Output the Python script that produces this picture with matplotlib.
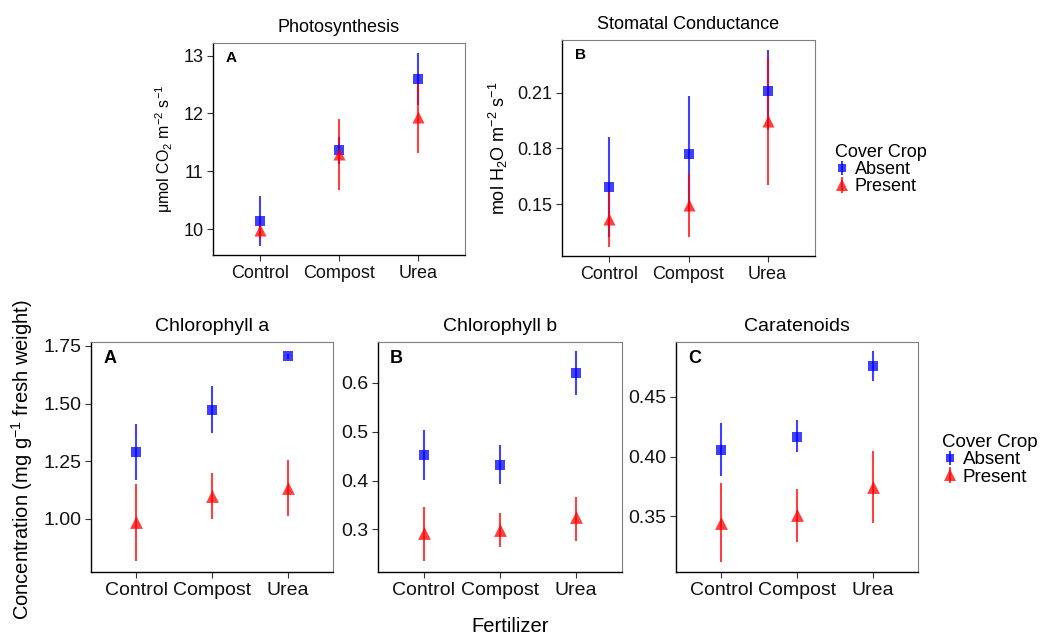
import numpy as np
import matplotlib
matplotlib.use("Agg")
import matplotlib.pyplot as plt
from matplotlib.lines import Line2D

plt.rcParams['font.family'] = ['Liberation Sans', 'DejaVu Sans']
plt.rcParams['mathtext.fontset'] = 'custom'
plt.rcParams['mathtext.rm'] = 'Liberation Sans'
plt.rcParams['mathtext.it'] = 'Liberation Sans'

fertilizer = ["Control", "Compost", "Urea"]

# photosynthesis (umol CO2 m-2 s-1)
ps_absent = [10.14, 11.36, 12.60]
ps_absent_lo = [9.71, 11.12, 12.15]
ps_absent_hi = [10.58, 11.60, 13.04]
ps_present = [9.98, 11.30, 11.94]
ps_present_lo = [9.82, 10.68, 11.32]
ps_present_hi = [10.14, 11.91, 12.56]

# stomatal conductance (mol H2O m-2 s-1)
gs_absent = [0.159, 0.177, 0.211]
gs_absent_lo = [0.132, 0.146, 0.190]
gs_absent_hi = [0.186, 0.208, 0.233]
gs_present = [0.142, 0.1495, 0.195]
gs_present_lo = [0.127, 0.132, 0.160]
gs_present_hi = [0.157, 0.166, 0.229]

# chlorophyll a
chla_absent = [1.289, 1.472, 1.705]
chla_absent_lo = [1.169, 1.371, 1.695]
chla_absent_hi = [1.411, 1.576, 1.715]
chla_present = [0.985, 1.099, 1.133]
chla_present_lo = [0.817, 0.997, 1.011]
chla_present_hi = [1.152, 1.198, 1.253]

# chlorophyll b
chlb_absent = [0.453, 0.432, 0.620]
chlb_absent_lo = [0.401, 0.393, 0.575]
chlb_absent_hi = [0.504, 0.472, 0.665]
chlb_present = [0.292, 0.299, 0.325]
chlb_present_lo = [0.235, 0.264, 0.277]
chlb_present_hi = [0.346, 0.333, 0.367]

# carotenoids
car_absent = [0.4056, 0.4168, 0.4757]
car_absent_lo = [0.3838, 0.4034, 0.4634]
car_absent_hi = [0.4280, 0.4307, 0.4885]
car_present = [0.3444, 0.3508, 0.3746]
car_present_lo = [0.3118, 0.3285, 0.3444]
car_present_hi = [0.3774, 0.3730, 0.4047]

BLUE = "#0000ff"
RED = "#ff0000"
W, H = 1041, 640

fig = plt.figure(figsize=(W / 100, H / 100), dpi=100)


def px_axes(x0, y0, x1, y1):
    return fig.add_axes([x0 / W, 1 - y1 / H, (x1 - x0) / W, (y1 - y0) / H])


def panel(ax, absent, a_lo, a_hi, present, p_lo, p_hi, ylim, yticks, ytl,
          title, letter, tick_fs, title_fs, letter_fs, sq, tri):
    x = np.arange(len(fertilizer))
    ax.vlines(x, a_lo, a_hi, color=BLUE, lw=1.5, alpha=0.75, zorder=2)
    ax.scatter(x, absent, marker='s', s=sq, color=BLUE, alpha=0.75,
               linewidths=0, zorder=3)
    ax.vlines(x, p_lo, p_hi, color=RED, lw=1.5, alpha=0.75, zorder=2)
    ax.scatter(x, present, marker='^', s=tri, color=RED, alpha=0.75,
               linewidths=0, zorder=3)
    ax.set_xlim(-0.6, 2.6)
    ax.set_ylim(*ylim)
    ax.set_xticks(x)
    ax.set_xticklabels(fertilizer, fontsize=tick_fs, color="#111111")
    ax.set_yticks(yticks)
    ax.set_yticklabels(ytl, fontsize=tick_fs, color="#111111")
    ax.tick_params(length=4, width=0.8, color="#333333", pad=3)
    for s in ("top", "right"):
        ax.spines[s].set_color("#7f7f7f")
        ax.spines[s].set_linewidth(0.8)
    for s in ("left", "bottom"):
        ax.spines[s].set_color("black")
        ax.spines[s].set_linewidth(1.0)
    ax.set_title(title, fontsize=title_fs, pad=8)
    ax.text(0.05, 0.93, letter, transform=ax.transAxes, fontsize=letter_fs,
            fontweight='bold', va='center', ha='left')


# top row
ax1 = px_axes(213, 43, 465, 255)
panel(ax1, ps_absent, ps_absent_lo, ps_absent_hi,
      ps_present, ps_present_lo, ps_present_hi,
      (9.55, 13.22), [10, 11, 12, 13], ["10", "11", "12", "13"],
      "Photosynthesis", "A", 13, 13, 11, 45, 75)
ax1.set_ylabel(r"$\mu$mol CO$_2$ m$^{-2}$ s$^{-1}$", fontsize=11.5, labelpad=6)

ax2 = px_axes(562, 40, 815, 256)
panel(ax2, gs_absent, gs_absent_lo, gs_absent_hi,
      gs_present, gs_present_lo, gs_present_hi,
      (0.122, 0.2384), [0.15, 0.18, 0.21], ["0.15", "0.18", "0.21"],
      "Stomatal Conductance", "B", 13, 13, 11, 45, 75)
ax2.set_ylabel(r"mol H$_2$O m$^{-2}$ s$^{-1}$", fontsize=13, labelpad=5)

# bottom row
ax3 = px_axes(91, 342, 333, 572)
panel(ax3, chla_absent, chla_absent_lo, chla_absent_hi,
      chla_present, chla_present_lo, chla_present_hi,
      (0.769, 1.767), [1.00, 1.25, 1.50, 1.75], ["1.00", "1.25", "1.50", "1.75"],
      "Chlorophyll a", "A", 14, 14, 13, 50, 85)

ax4 = px_axes(378, 342, 622, 572)
panel(ax4, chlb_absent, chlb_absent_lo, chlb_absent_hi,
      chlb_present, chlb_present_lo, chlb_present_hi,
      (0.2127, 0.6838), [0.3, 0.4, 0.5, 0.6], ["0.3", "0.4", "0.5", "0.6"],
      "Chlorophyll b", "B", 14, 14, 13, 50, 85)

ax5 = px_axes(676, 342, 918, 572)
panel(ax5, car_absent, car_absent_lo, car_absent_hi,
      car_present, car_present_lo, car_present_hi,
      (0.3031, 0.4961), [0.35, 0.40, 0.45], ["0.35", "0.40", "0.45"],
      "Caratenoids", "C", 14, 14, 13, 50, 85)

fig.text(22 / W, 1 - 460 / H, r"Concentration (mg g$^{-1}$ fresh weight)",
         rotation=90, fontsize=14.5, ha='center', va='center')
fig.text(510 / W, 1 - 627 / H, "Fertilizer", fontsize=14.5,
         ha='center', va='center')


def legend_handles(ms_sq, ms_tri):
    ha = (Line2D([], [], marker='|', ms=ms_sq + 4, mew=1.5, color=BLUE, alpha=0.75, ls='none'),
          Line2D([], [], marker='s', ms=ms_sq, color=BLUE, alpha=0.75, mew=0, ls='none'))
    hp = (Line2D([], [], marker='|', ms=ms_tri + 3, mew=1.5, color=RED, alpha=0.75, ls='none'),
          Line2D([], [], marker='^', ms=ms_tri, color=RED, alpha=0.75, mew=0, ls='none'))
    return [ha, hp]


leg1 = fig.legend(legend_handles(6, 8), ["Absent", "Present"], title="Cover Crop",
                  loc='upper left', bbox_to_anchor=(826 / W, 1 - 135 / H),
                  frameon=False, fontsize=13, title_fontsize=13,
                  handlelength=0.8, handletextpad=0.3, labelspacing=0.0,
                  borderpad=0, alignment='left')
leg2 = fig.legend(legend_handles(6, 8), ["Absent", "Present"], title="Cover Crop",
                  loc='upper left', bbox_to_anchor=(933 / W, 1 - 425 / H),
                  frameon=False, fontsize=13.5, title_fontsize=13.5,
                  handlelength=0.8, handletextpad=0.3, labelspacing=0.0,
                  borderpad=0, alignment='left')

fig.savefig("out.png", dpi=100, facecolor="white")
